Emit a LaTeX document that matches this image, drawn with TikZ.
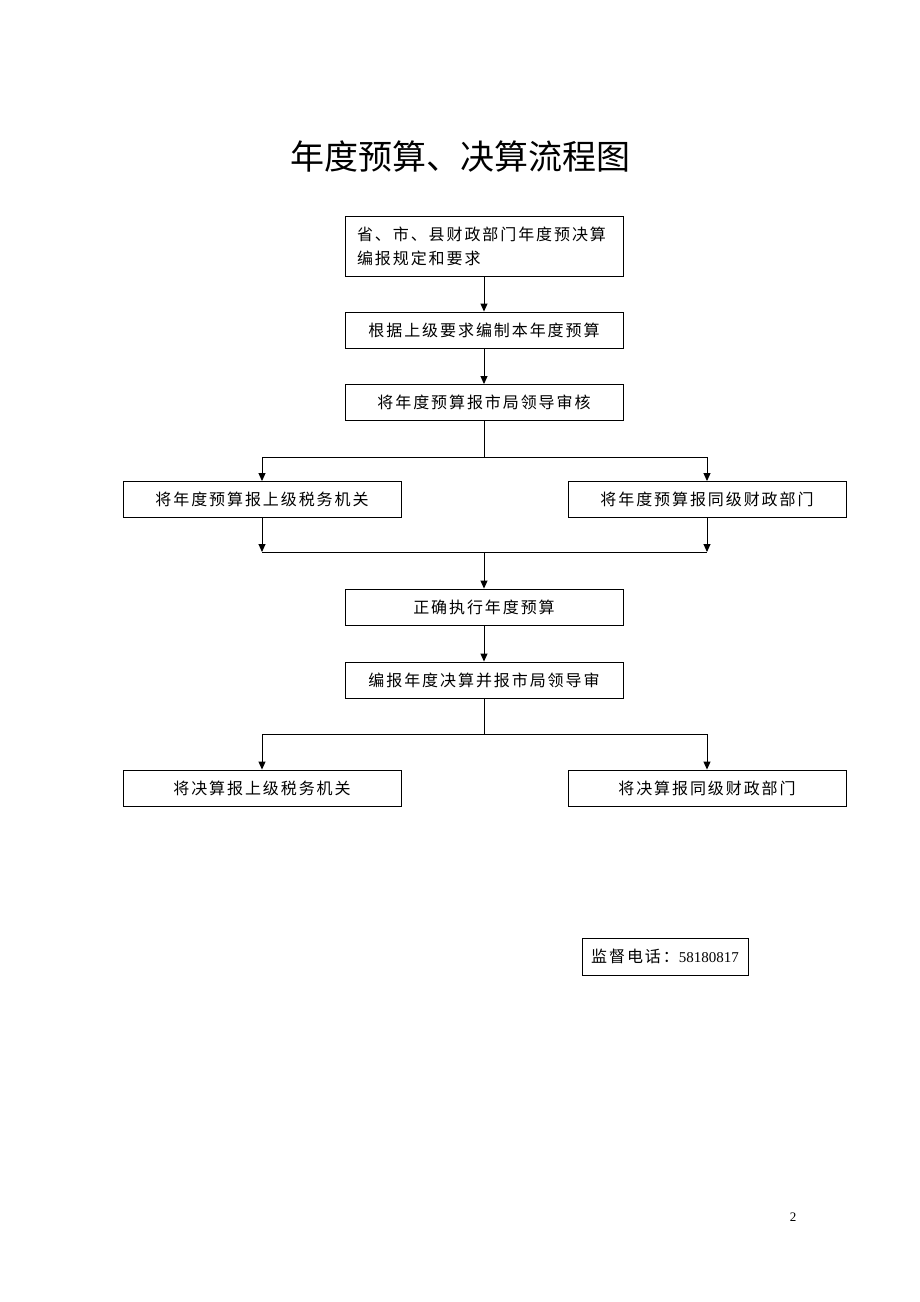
\documentclass[tikz,border=0pt]{standalone}
\usepackage{fontspec}
\setmainfont{Liberation Serif}
\newfontfamily\cjk{Noto Sans CJK SC}
\newfontfamily\cjks[LetterSpace=12]{Noto Sans CJK SC}
\usetikzlibrary{arrows.meta}
\begin{document}
\begin{tikzpicture}[x=1pt,y=-1pt,
  box/.style={draw,line width=0.9pt,minimum height=36pt,inner sep=0pt,font=\cjks\fontsize{16}{24}\selectfont},
  wide/.style={box,minimum width=278pt},
  arr/.style={line width=0.9pt,-{Triangle[length=8pt,width=7pt]}},
  ln/.style={line width=0.9pt}]
\useasboundingbox (0,0) rectangle (920,1302);
\node[font=\cjk\fontsize{34}{38}\selectfont] (title) at (460,157) {年度预算、决算流程图};
\node[wide,minimum height=60pt,align=left,text width=254pt] (b1) at (484,246) {省、市、县财政部门年度预决算\\编报规定和要求};
\node[wide] (b2) at (484,330) {根据上级要求编制本年度预算};
\node[wide] (b3) at (484,402.5) {将年度预算报市局领导审核};
\node[wide] (b4l) at (262,499.5) {将年度预算报上级税务机关};
\node[wide] (b4r) at (707,499.5) {将年度预算报同级财政部门};
\node[wide] (b5) at (484,607) {正确执行年度预算};
\node[wide] (b6) at (484,680) {编报年度决算并报市局领导审};
\node[wide] (b7l) at (262,788) {将决算报上级税务机关};
\node[wide] (b7r) at (707,788) {将决算报同级财政部门};
\node[box,minimum width=166pt,minimum height=37pt] (ph) at (665,956.5) {监督电话：{\rmfamily\fontsize{15}{18}\selectfont 58180817}};
\node[font=\fontsize{13}{15}\selectfont] (pg) at (793,1217) {2};
\coordinate (j1) at (484,457); \coordinate (j1l) at (262,457); \coordinate (j1r) at (707,457);
\coordinate (j2) at (484,552); \coordinate (j2l) at (262,552); \coordinate (j2r) at (707,552);
\coordinate (j3) at (484,734); \coordinate (j3l) at (262,734); \coordinate (j3r) at (707,734);
\draw[arr] (b1) -- (b2);
\draw[arr] (b2) -- (b3);
\draw[ln] (b3) -- (j1);
\draw[ln] (j1l) -- (j1r);
\draw[arr] (j1l) -- (b4l);
\draw[arr] (j1r) -- (b4r);
\draw[arr] (b4l) -- (j2l);
\draw[arr] (b4r) -- (j2r);
\draw[ln] (j2l) -- (j2r);
\draw[arr] (j2) -- (b5);
\draw[arr] (b5) -- (b6);
\draw[ln] (b6) -- (j3);
\draw[ln] (j3l) -- (j3r);
\draw[arr] (j3l) -- (b7l);
\draw[arr] (j3r) -- (b7r);
\end{tikzpicture}
\end{document}
